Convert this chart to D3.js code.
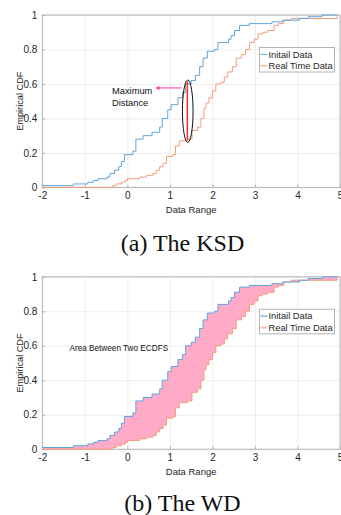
<!DOCTYPE html>
<html>
<head>
<meta charset="utf-8">
<script src="https://cdn.jsdelivr.net/npm/d3@7"></script>
<style>
body { margin: 0; background: #fff; }
svg { display: block; font-family: "Liberation Sans", Arial, sans-serif; }
.axis path { display: none; }
.axis line { stroke: #b4b4b4; }
.axis text { fill: #262626; font-size: 10px; }
.grid line { stroke: #ececec; }
.grid path { display: none; }
</style>
</head>
<body>
<div id="chart"></div>
<script>
// ECDF steps: x where each step happens, cdf level after it
var initX = [-2.00, -1.27, -0.93, -0.80, -0.69, -0.48, -0.41, -0.30, -0.20, -0.14,
             -0.07, 0.13, 0.20, 0.37, 0.58, 0.76, 0.82, 0.95, 1.03, 1.19,
             1.30, 1.37, 1.50, 1.60, 1.70, 1.78, 1.88, 2.05, 2.13, 2.38,
             2.44, 2.52, 2.64, 2.87, 3.40, 3.65, 4.05, 4.25, 4.58, 4.95];
var initY = [0.01, 0.02, 0.03, 0.04, 0.05, 0.06, 0.08, 0.10, 0.12, 0.15,
             0.19, 0.21, 0.28, 0.30, 0.32, 0.35, 0.40, 0.45, 0.48, 0.52,
             0.55, 0.60, 0.62, 0.65, 0.70, 0.75, 0.79, 0.80, 0.84, 0.86,
             0.88, 0.91, 0.94, 0.95, 0.96, 0.97, 0.98, 0.99, 1.00, 1.00];

var realX = [-2.00, -0.34, -0.26, -0.14, -0.05, 0.00, 0.29, 0.45, 0.60, 0.68,
             0.76, 0.84, 0.92, 1.07, 1.13, 1.22, 1.42, 1.52, 1.65, 1.73,
             1.80, 1.85, 1.92, 2.00, 2.08, 2.20, 2.28, 2.36, 2.47, 2.56,
             2.68, 2.78, 2.87, 2.98, 3.07, 3.18, 3.30, 3.45, 3.55, 3.68,
             3.85, 4.93, 4.95];
var realY = [0.00, 0.01, 0.02, 0.03, 0.04, 0.05, 0.06, 0.07, 0.08, 0.10,
             0.12, 0.14, 0.18, 0.19, 0.24, 0.27, 0.28, 0.33, 0.35, 0.40,
             0.46, 0.49, 0.52, 0.56, 0.60, 0.61, 0.64, 0.67, 0.70, 0.75,
             0.77, 0.80, 0.84, 0.86, 0.89, 0.90, 0.91, 0.94, 0.95, 0.97,
             0.98, 0.99, 0.99];

var xTicks = [-2, -1, 0, 1, 2, 3, 4, 5];
var yTicks = [0, 0.2, 0.4, 0.6, 0.8, 1];
var seriesNames = ["Initail Data", "Real Time Data"];
var captions = ["(a) The KSD", "(b) The WD"];

// KSD annotation (data units)
var ksdX = 1.41, ksdHigh = 0.613, ksdLow = 0.275;
var ellipseC = [1.42, 0.442], ellipseR = [0.125, 0.181];
var arrowY = 0.577, arrowFrom = 1.27, arrowTo = 0.66;
var noteLines = ["Maximum", "Distance"], noteX = -0.36, noteY = [0.54, 0.474];
// WD annotation
var areaNote = "Area Between Two ECDFS", areaNoteX = -1.36, areaNoteY = 0.572;

var blue = "#5ea4dc", orange = "#f39c7a", pink = "#ffabc7";

var svgWidth = 341, svgHeight = 515;
var plotLeft = 42.3, plotRight = 340, plotH = 172.4;
var panelTops = [15, 276.8];

var svg = d3.select("#chart").append("svg")
    .attr("width", svgWidth)
    .attr("height", svgHeight);

var x = d3.scaleLinear().domain([-2, 5]).range([plotLeft, plotRight]);

function points(xs, ys) {
    return xs.map(function (v, i) { return [v, ys[i]]; });
}

// ecdf value at a given x
function ecdfAt(xs, ys, v) {
    var i = d3.bisectRight(xs, v) - 1;
    return i < 0 ? 0 : ys[i];
}

function drawPanel(k) {
    var top = panelTops[k];
    var y = d3.scaleLinear().domain([0, 1]).range([top + plotH, top]);
    var g = svg.append("g");

    // grid
    g.append("g").attr("class", "grid")
        .attr("transform", `translate(0, ${top + plotH})`)
        .call(d3.axisBottom(x).tickValues(xTicks).tickSize(-plotH).tickFormat(""));
    g.append("g").attr("class", "grid")
        .attr("transform", `translate(${plotLeft}, 0)`)
        .call(d3.axisLeft(y).tickValues(yTicks).tickSize(-(plotRight - plotLeft)).tickFormat(""));

    // box
    g.append("rect")
        .attr("x", plotLeft).attr("y", top)
        .attr("width", plotRight - plotLeft).attr("height", plotH)
        .attr("fill", "none").attr("stroke", "#b4b4b4").attr("stroke-width", 1);

    // axes, ticks pointing inward
    g.append("g").attr("class", "axis")
        .attr("transform", `translate(0, ${top + plotH})`)
        .call(d3.axisBottom(x).tickValues(xTicks).tickSizeInner(-3).tickPadding(5)
            .tickFormat(function (d) { return String(d); }));
    g.append("g").attr("class", "axis")
        .attr("transform", `translate(${plotLeft}, 0)`)
        .call(d3.axisLeft(y).tickValues(yTicks).tickSizeInner(-3).tickPadding(5)
            .tickFormat(function (d) { return String(d); }));

    // area between the two ecdfs (WD panel)
    if (k === 1) {
        var allX = Array.from(new Set(initX.concat(realX))).sort(d3.ascending);
        var band = allX.map(function (v) {
            return { x: v, a: ecdfAt(initX, initY, v), b: ecdfAt(realX, realY, v) };
        });
        g.append("path")
            .datum(band)
            .attr("fill", pink)
            .attr("d", d3.area().curve(d3.curveStepAfter)
                .x(function (d) { return x(d.x); })
                .y0(function (d) { return y(d.b); })
                .y1(function (d) { return y(d.a); }));
    }

    var line = d3.line().curve(d3.curveStepAfter)
        .x(function (d) { return x(d[0]); })
        .y(function (d) { return y(d[1]); });

    g.append("path").datum(points(realX, realY))
        .attr("fill", "none").attr("stroke", orange).attr("stroke-width", 1).attr("d", line);
    g.append("path").datum(points(initX, initY))
        .attr("fill", "none").attr("stroke", blue).attr("stroke-width", 1).attr("d", line);

    // labels
    g.append("text")
        .attr("x", (plotLeft + plotRight) / 2).attr("y", top + plotH + 26)
        .attr("text-anchor", "middle").attr("font-size", 9.5).attr("fill", "#262626")
        .text("Data Range");
    g.append("text")
        .attr("transform", `translate(22.5, ${top + plotH / 2}) rotate(-90)`)
        .attr("text-anchor", "middle").attr("font-size", 9.2).attr("fill", "#262626")
        .text("Empirical CDF");

    // legend
    var lg = g.append("g").attr("transform", `translate(259.5, ${top + 32.5})`);
    lg.append("rect").attr("width", 75).attr("height", 24.5)
        .attr("fill", "#fff").attr("stroke", "#b4b4b4");
    [blue, orange].forEach(function (c, i) {
        var ly = 6.8 + i * 11.5;
        lg.append("line").attr("x1", 1).attr("x2", 8).attr("y1", ly).attr("y2", ly)
            .attr("stroke", c).attr("stroke-width", k === 1 ? 2 : 1).attr("opacity", k === 1 ? 0.6 : 1);
        lg.append("text").attr("x", 9).attr("y", ly).attr("dy", "0.35em")
            .attr("font-size", 9.3).attr("fill", "#262626").text(seriesNames[i]);
    });

    // caption
    svg.append("text")
        .attr("x", 182.5).attr("y", k === 0 ? 250.7 : 511)
        .attr("text-anchor", "middle")
        .attr("font-family", "'Liberation Serif', 'Times New Roman', serif")
        .attr("font-size", 24).attr("fill", "#111")
        .text(captions[k]);

    return y;
}

// panel (a) KSD
var yA = drawPanel(0);
svg.append("line")
    .attr("x1", x(ksdX)).attr("x2", x(ksdX))
    .attr("y1", yA(ksdHigh)).attr("y2", yA(ksdLow))
    .attr("stroke", "#ff2e2e").attr("stroke-width", 1.5);
svg.append("ellipse")
    .attr("cx", x(ellipseC[0])).attr("cy", yA(ellipseC[1]))
    .attr("rx", x(ellipseR[0]) - x(0)).attr("ry", yA(0) - yA(ellipseR[1]))
    .attr("fill", "none").attr("stroke", "#111").attr("stroke-width", 1);
svg.append("line")
    .attr("x1", x(arrowFrom)).attr("x2", x(arrowTo) + 3)
    .attr("y1", yA(arrowY)).attr("y2", yA(arrowY))
    .attr("stroke", "#ff33a6").attr("stroke-width", 1);
svg.append("path")
    .attr("d", `M${x(arrowTo)},${yA(arrowY)} l4,-2 l0,4 z`)
    .attr("fill", "#ff33a6");
noteLines.forEach(function (t, i) {
    svg.append("text")
        .attr("x", x(noteX)).attr("y", yA(noteY[i]))
        .attr("font-size", 9.3).attr("fill", "#111")
        .text(t);
});

// panel (b) WD
var yB = drawPanel(1);
svg.append("text")
    .attr("x", x(areaNoteX)).attr("y", yB(areaNoteY))
    .attr("font-size", 8.2).attr("fill", "#111")
    .text(areaNote);
</script>
</body>
</html>
